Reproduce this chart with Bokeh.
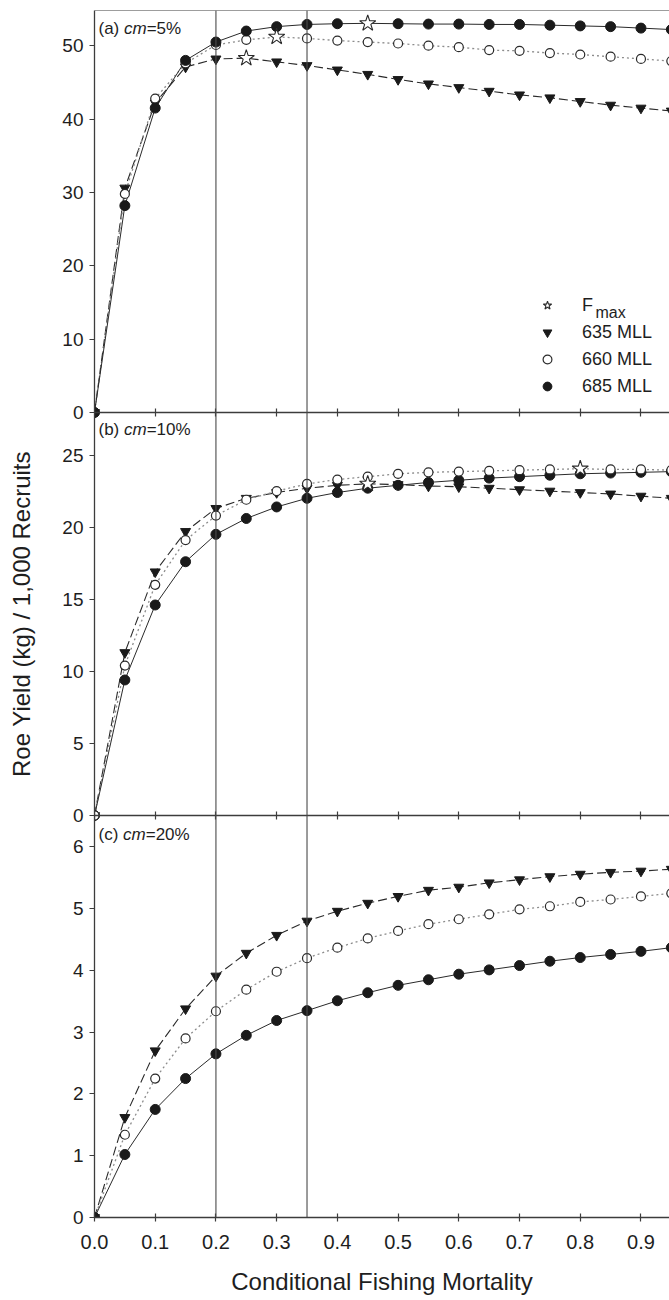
from bokeh.plotting import figure
from bokeh.models import (Range1d, LinearAxis, FixedTicker, Span, Legend, LegendItem,
                          Label, PrintfTickFormatter)
from bokeh.embed import file_html
from bokeh.resources import INLINE

# ---------------- data ----------------
F = [0.00, 0.05, 0.10, 0.15, 0.20, 0.25, 0.30, 0.35, 0.40, 0.45,
     0.50, 0.55, 0.60, 0.65, 0.70, 0.75, 0.80, 0.85, 0.90, 0.95]

# panel (a) cm = 5%
a_635 = [0, 30.6, 42.2, 47.1, 48.2, 48.3, 47.8, 47.3, 46.7, 46.1,
         45.4, 44.8, 44.3, 43.8, 43.3, 42.9, 42.4, 41.9, 41.5, 41.1]
a_660 = [0, 29.8, 42.8, 47.6, 50.1, 50.8, 51.2, 51.0, 50.7, 50.5,
         50.3, 50.0, 49.8, 49.4, 49.3, 49.0, 48.8, 48.5, 48.2, 47.9]
a_685 = [0, 28.2, 41.5, 48.0, 50.5, 52.0, 52.6, 52.9, 53.0, 53.05,
         53.0, 52.95, 52.95, 52.9, 52.9, 52.8, 52.7, 52.6, 52.4, 52.2]

# panel (b) cm = 10%
b_635 = [0, 11.3, 16.9, 19.7, 21.3, 22.0, 22.4, 22.7, 22.9, 23.0,
         22.95, 22.85, 22.8, 22.7, 22.6, 22.5, 22.4, 22.3, 22.15, 22.0]
b_660 = [0, 10.4, 16.0, 19.1, 20.8, 21.9, 22.5, 23.0, 23.3, 23.5,
         23.7, 23.8, 23.85, 23.9, 23.95, 24.0, 24.05, 24.0, 24.0, 23.95]
b_685 = [0, 9.4, 14.6, 17.6, 19.5, 20.6, 21.4, 22.0, 22.4, 22.7,
         22.9, 23.1, 23.25, 23.4, 23.5, 23.6, 23.7, 23.75, 23.8, 23.85]

# panel (c) cm = 20%
c_635 = [0, 1.62, 2.70, 3.38, 3.91, 4.28, 4.57, 4.80, 4.96, 5.09,
         5.20, 5.30, 5.35, 5.42, 5.47, 5.52, 5.56, 5.59, 5.61, 5.64]
c_660 = [0, 1.34, 2.25, 2.90, 3.34, 3.69, 3.98, 4.20, 4.37, 4.52,
         4.64, 4.75, 4.83, 4.91, 4.99, 5.04, 5.11, 5.15, 5.20, 5.25]
c_685 = [0, 1.02, 1.75, 2.25, 2.65, 2.95, 3.19, 3.35, 3.51, 3.64,
         3.76, 3.85, 3.94, 4.01, 4.08, 4.15, 4.21, 4.26, 4.31, 4.37]

# F at maximum yield (stars), per panel and series
fmax_a = {"635": 0.25, "660": 0.30, "685": 0.45}
fmax_b = {"635": 0.45, "660": 0.80}
fmax_c = {}

series_keys = ["635", "660", "685"]
series_labels = ["635 MLL", "660 MLL", "685 MLL"]
fmax_label = "F"
fmax_sub = "max"

panel_tags = ["(a) ", "(b) ", "(c) "]
panel_cm = ["=5%", "=10%", "=20%"]
panel_ymax = [54.8, 27.95, 6.51]
panel_yticks = [[0, 10, 20, 30, 40, 50], [0, 5, 10, 15, 20, 25], [0, 1, 2, 3, 4, 5, 6]]
x_ticks = [0.0, 0.1, 0.2, 0.3, 0.4, 0.5, 0.6, 0.7, 0.8, 0.9]
x_max = 0.947
ref_lines = [0.2, 0.35]

x_title = "Conditional Fishing Mortality"
y_title = "Roe Yield (kg) / 1,000 Recruits"

panels = [
    {"635": a_635, "660": a_660, "685": a_685},
    {"635": b_635, "660": b_660, "685": b_685},
    {"635": c_635, "660": c_660, "685": c_685},
]
fmaxes = [fmax_a, fmax_b, fmax_c]
draw_order = [["635", "660", "685"], ["635", "685", "660"], ["635", "660", "685"]]

# ---------------- styling ----------------
FONT = "Liberation Sans"
TXT = "#1e1e1e"
AX = "#3c3c3c"
INK = "#1a1a1a"

line_style = {
    "635": dict(line_color="#2a2a2a", line_width=1.1, line_dash="9 4"),
    "660": dict(line_color="#8c8c8c", line_width=1.3, line_dash="2 3"),
    "685": dict(line_color="#2a2a2a", line_width=1.0),
}
marker_style = {
    "635": dict(marker="inverted_triangle", size=10, fill_color=INK, line_color=INK),
    "660": dict(marker="circle", size=9, fill_color="white", line_color="#2a2a2a", line_width=1.2),
    "685": dict(marker="circle", size=10, fill_color=INK, line_color=INK),
}
star_style = dict(marker="star", size=17, fill_color="white", line_color="#2a2a2a", line_width=1.1)

# ---------------- layout ----------------
FRAME_PX = [402, 403, 402]
FRAME_H = sum(FRAME_PX)
TOP, BOTTOM, LEFT = 10, 83, 94
W, H = 669, TOP + FRAME_H + BOTTOM


def panel_scale(i):
    k = FRAME_PX[i] / panel_ymax[i]
    above = sum(FRAME_PX[:i])
    below = FRAME_H - above - FRAME_PX[i]
    return k, above, below


def panel_range(i):
    k, above, below = panel_scale(i)
    return Range1d(-below / k, panel_ymax[i] + above / k)


ranges = [panel_range(i) for i in range(3)]
range_names = ["a", "b", "default"]


def to_base(i, v):
    """panel-i value -> value on the base (panel c) range, for the shared left axis"""
    k, above, below = panel_scale(i)
    kc, _, _ = panel_scale(2)
    return (below + v * k) / kc


p = figure(width=W, height=H, x_range=Range1d(0, x_max), y_range=ranges[2],
           output_backend="svg", toolbar_location=None,
           x_axis_location=None, y_axis_location=None,
           min_border_left=LEFT, min_border_right=0,
           min_border_top=TOP, min_border_bottom=BOTTOM)
p.extra_y_ranges = {"a": ranges[0], "b": ranges[1]}
p.grid.grid_line_color = None
p.outline_line_color = None
p.background_fill_color = "white"
p.border_fill_color = "white"

# main bottom axis
xb = LinearAxis(ticker=FixedTicker(ticks=x_ticks),
                formatter=PrintfTickFormatter(format="%.1f"),
                axis_label=x_title)
xb.major_tick_in = 4
xb.major_tick_out = 4
xb.minor_tick_line_color = None
xb.minor_tick_out = 0
xb.axis_line_color = AX
xb.axis_line_width = 1.6
xb.major_tick_line_color = AX
xb.major_tick_line_width = 1.2
xb.major_label_text_font = FONT
xb.major_label_text_font_size = "20px"
xb.major_label_text_color = TXT
xb.major_label_standoff = 13
xb.axis_label_text_font = FONT
xb.axis_label_text_font_size = "24px"
xb.axis_label_text_font_style = "normal"
xb.axis_label_text_color = TXT
xb.axis_label_standoff = 16
p.add_layout(xb, "below")

# panel boundary axes (y = 0 of panels a and b)
for name in ["a", "b"]:
    ax = LinearAxis(ticker=FixedTicker(ticks=x_ticks), y_range_name=name, fixed_location=0)
    ax.major_tick_in = 4
    ax.major_tick_out = 4
    ax.minor_tick_line_color = None
    ax.axis_line_color = AX
    ax.axis_line_width = 1.6
    ax.major_tick_line_color = AX
    ax.major_tick_line_width = 1.2
    ax.major_label_text_color = None
    p.add_layout(ax, "below")

# one shared left axis carrying the three panels' ticks
y_pos, y_lab = [], {}
for i in range(3):
    for v in panel_yticks[i]:
        pos = to_base(i, v)
        y_pos.append(pos)
        y_lab[pos] = str(v)
ya = LinearAxis(ticker=FixedTicker(ticks=y_pos), major_label_overrides=y_lab,
                axis_label=y_title)
ya.major_tick_in = 0
ya.major_tick_out = 5
ya.minor_tick_line_color = None
ya.minor_tick_out = 0
ya.major_tick_line_color = AX
ya.major_tick_line_width = 1.2
ya.axis_line_color = AX
ya.axis_line_width = 1.3
ya.major_label_text_font = FONT
ya.major_label_text_font_size = "19px"
ya.major_label_text_color = TXT
ya.major_label_standoff = 6
ya.axis_label_text_font = FONT
ya.axis_label_text_font_size = "24px"
ya.axis_label_text_font_style = "normal"
ya.axis_label_text_color = TXT
ya.axis_label_standoff = 24
p.add_layout(ya, "left")

# top border and reference lines
p.add_layout(Span(location=panel_ymax[0], dimension="width", y_range_name="a",
                  line_color=AX, line_width=1.2))
for v in ref_lines:
    p.add_layout(Span(location=v, dimension="height", line_color="#4a4a4a", line_width=1.1))

# glyphs
legend_renderers = {}
for i, name in enumerate(range_names):
    data = panels[i]
    kw = {} if name == "default" else {"y_range_name": name}
    for key in series_keys:
        p.line(F, data[key], **line_style[key], **kw)
    star_x, star_y = [], []
    for key in draw_order[i]:
        fm = fmaxes[i].get(key)
        xs, ys = [], []
        for f, y in zip(F, data[key]):
            if fm is not None and abs(f - fm) < 1e-9:
                star_x.append(f)
                star_y.append(y)
            else:
                xs.append(f)
                ys.append(y)
        r = p.scatter(xs, ys, **marker_style[key], **kw)
        if i == 0:
            legend_renderers[key] = r
    if star_x:
        rs = p.scatter(star_x, star_y, **star_style, **kw)
        if i == 0:
            legend_renderers["star"] = rs

# legend (inside panel a, lower right)
items = [LegendItem(label=fmax_label, renderers=[legend_renderers["star"]])]
for key, lab in zip(series_keys, series_labels):
    items.append(LegendItem(label=lab, renderers=[legend_renderers[key]]))
legend = Legend(items=items, location=(442, 820))
legend.background_fill_alpha = 0
legend.border_line_color = None
legend.padding = 0
legend.margin = 0
legend.spacing = 5
legend.glyph_width = 22
legend.glyph_height = 22
legend.label_height = 22
legend.label_standoff = 24
legend.label_text_font = FONT
legend.label_text_font_size = "18px"
legend.label_text_color = TXT
p.add_layout(legend)

p.add_layout(Label(x=0, y=0, y_range_name="a", x_offset=501, y_offset=100, text=fmax_sub,
                   text_font=FONT, text_font_size="16px", text_color=TXT,
                   text_baseline="alphabetic"))

# panel tags with italic "cm"
WID = {"(": 333, ")": 333, "a": 556, "b": 556, "c": 500, "m": 833, " ": 278,
       "=": 584, "0": 556, "1": 556, "2": 556, "5": 556, "%": 889}


def text_w(s, size):
    return sum(WID.get(ch, 556) for ch in s) * size / 1000.0


TAG_SIZE = 17
tag_dy = [-8, -7, -9]
for i, name in enumerate(range_names):
    kw = {} if name == "default" else {"y_range_name": name}
    x0 = 4
    for part, style in [(panel_tags[i], "normal"), ("cm", "italic"), (panel_cm[i], "normal")]:
        p.add_layout(Label(x=0, y=panel_ymax[i], x_offset=x0, y_offset=tag_dy[i], text=part,
                           text_font=FONT, text_font_size=f"{TAG_SIZE}px", text_font_style=style,
                           text_color=TXT, text_baseline="top", text_align="left", **kw))
        x0 += text_w(part, TAG_SIZE)

open("out.html", "w").write(file_html(p, INLINE))
